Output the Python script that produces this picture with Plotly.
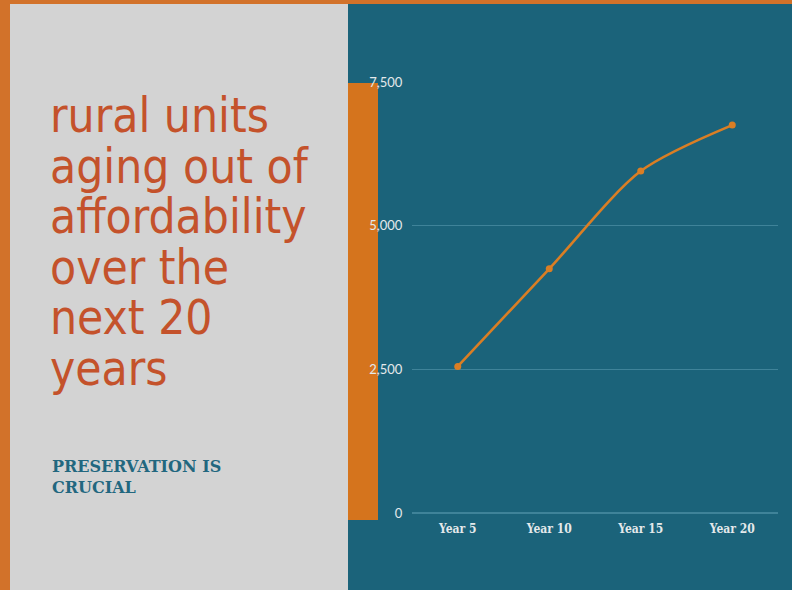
import plotly.graph_objects as go

# ---- data ----
categories = ["Year 5", "Year 10", "Year 15", "Year 20"]
units_aging_out = [2550, 4250, 5950, 6750]
y_ticks = [0, 2500, 5000, 7500]
title_lines = ["rural units", "aging out of", "affordability", "over the", "next 20", "years"]
subtitle_lines = ["PRESERVATION IS", "CRUCIAL"]

# ---- layout geometry (pixels) ----
W, H = 792, 590
L, R, T, B = 412, 14, 82, 77
PW, PH = W - L - R, H - T - B

def px_x(px):
    return (px - L) / PW

def px_y(py):
    return (H - B - py) / PH

ORANGE_BORDER = "#D2722A"
TEAL = "#1B637A"
GRAY = "#D3D3D3"
ORANGE_BAR = "#D5741D"
TITLE_RED = "#C4522B"
LINE_ORANGE = "#DA7E24"
SUB_TEAL = "#22677F"
GRID = "#3F8399"
TICK = "#E4E9EB"

fig = go.Figure()
fig.add_trace(go.Scatter(
    x=categories, y=units_aging_out, mode="lines+markers",
    line=dict(color=LINE_ORANGE, width=2.6, shape="spline", smoothing=0.8),
    marker=dict(color=LINE_ORANGE, size=7),
    hoverinfo="skip", showlegend=False,
))

shapes = [
    dict(type="rect", xref="paper", yref="paper", layer="below",
         x0=px_x(10), x1=px_x(348), y0=px_y(4), y1=px_y(H + 5),
         fillcolor=GRAY, line=dict(width=0)),
    dict(type="rect", xref="paper", yref="paper", layer="below",
         x0=px_x(348), x1=px_x(W + 5), y0=px_y(4), y1=px_y(H + 5),
         fillcolor=TEAL, line=dict(width=0)),
    dict(type="rect", xref="paper", yref="paper", layer="below",
         x0=px_x(348), x1=px_x(378), y0=px_y(83), y1=px_y(520),
         fillcolor=ORANGE_BAR, line=dict(width=0)),
]

annotations = []
for i, line in enumerate(title_lines):
    baseline = 132 + 50.5 * i
    annotations.append(dict(
        text=line, xref="paper", yref="paper", showarrow=False,
        x=px_x(48), y=px_y(baseline - 16.3), xanchor="left", yanchor="middle",
        font=dict(family="DejaVu Sans Condensed, DejaVu Sans", size=47.5, color=TITLE_RED),
    ))
annotations.append(dict(
    text="<br>".join(subtitle_lines), xref="paper", yref="paper", showarrow=False,
    x=px_x(50), y=px_y(455), xanchor="left", yanchor="top", align="left",
    font=dict(family="DejaVu Serif", size=16, color=SUB_TEAL, weight="bold"),
))

fig.update_layout(
    width=W, height=H,
    margin=dict(l=L, r=R, t=T, b=B, pad=0),
    paper_bgcolor=ORANGE_BORDER,
    plot_bgcolor="rgba(0,0,0,0)",
    shapes=shapes, annotations=annotations,
    xaxis=dict(
        type="category", range=[-0.5, 3.5], showgrid=False, zeroline=False,
        showline=False, ticks="outside", ticklen=5, tickcolor="rgba(0,0,0,0)",
        tickfont=dict(family="DejaVu Serif Condensed, DejaVu Serif", size=12,
                      color=TICK, weight="bold"),
    ),
    yaxis=dict(
        range=[0, 7500], tickvals=y_ticks, tickformat=",",
        showgrid=True, gridcolor=GRID, gridwidth=1,
        zeroline=True, zerolinecolor=GRID, zerolinewidth=1.5,
        showline=False, ticks="outside", ticklen=6, tickcolor="rgba(0,0,0,0)",
        tickfont=dict(family="Lato", size=13, color=TICK),
    ),
)

fig.write_html(
    "out.html",
    config={"displayModeBar": False},
    post_script="document.body.style.margin='0';document.body.style.overflow='hidden';",
)
